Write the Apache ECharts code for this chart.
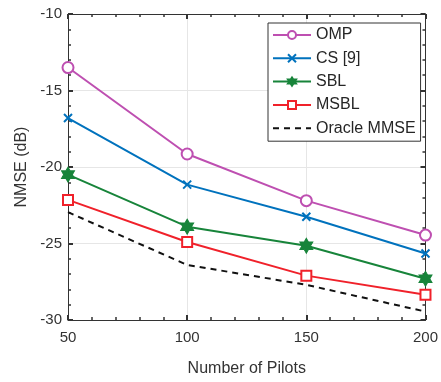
<!DOCTYPE html>
<html>
<head>
<meta charset="utf-8">
<script src="https://cdn.jsdelivr.net/npm/echarts@6/dist/echarts.min.js"></script>
<style>
  html, body { margin: 0; padding: 0; background: #fff; }
  #chart { width: 441px; height: 382px; }
</style>
</head>
<body>
<div id="chart"></div>
<script>
// pilots on the x axis
const pilots = [50, 100, 150, 200];

// NMSE in dB
const omp = [-13.5, -19.15, -22.2, -24.45];
const cs9 = [-16.8, -21.15, -23.25, -25.65];
const sbl = [-20.5, -23.9, -25.15, -27.3];
const msbl = [-22.15, -24.9, -27.1, -28.35];
const oracle = [-22.95, -26.4, -27.7, -29.45];

const FONT = '"Liberation Sans", Arial, Helvetica, sans-serif';
const AXIS = '#333333';
const GRIDC = '#e6e6e6';

// marker shapes
const crossPath = 'path://M0,0 L10,10 M10,0 L0,10';
const hexagram = 'path://M10,0 L12.89,5 L18.66,5 L15.77,10 L18.66,15 L12.89,15 L10,20 L7.11,15 L1.34,15 L4.23,10 L1.34,5 L7.11,5 Z';

const pairs = ys => pilots.map((x, i) => [x, ys[i]]);

// matlab-style box: ticks inside on all four sides
const axisStyle = (min, max, interval) => ({
    type: 'value',
    min: min,
    max: max,
    interval: interval,
    axisLine: { show: true, onZero: false, lineStyle: { color: AXIS, width: 1 } },
    axisTick: { show: true, inside: true, length: 5, lineStyle: { color: AXIS, width: 2 } },
    minorTick: { show: true, splitNumber: 5, length: 3, lineStyle: { color: AXIS, width: 1.5 } },
    splitLine: { show: false },
});

const chart = echarts.init(document.getElementById('chart'), null, { renderer: 'canvas' });
chart.setOption({
    animation: false,
    backgroundColor: '#fff',
    textStyle: { fontFamily: FONT },
    grid: { left: 68, right: 8, top: 14, bottom: 62 },
    legend: {
        orient: 'vertical',
        left: 268,
        top: 23,
        padding: [4, 5, 5, 4],
        borderColor: '#333',
        borderWidth: 1,
        backgroundColor: '#fff',
        itemWidth: 38,
        itemHeight: 10,
        itemGap: 7.3,
        textStyle: { fontFamily: FONT, fontSize: 16, color: '#262626', lineHeight: 16 },
        data: ['OMP', 'CS [9]', 'SBL', 'MSBL', 'Oracle MMSE'],
    },
    xAxis: [
        Object.assign(axisStyle(50, 200, 50), {
            position: 'bottom',
            name: 'Number of Pilots',
            nameLocation: 'middle',
            nameGap: 41,
            nameTextStyle: { fontFamily: FONT, fontSize: 16, color: '#333' },
            axisLabel: { fontFamily: FONT, fontSize: 15, color: '#333', margin: 10 },
            splitLine: { show: true, lineStyle: { color: GRIDC, width: 1 } },
        }),
        Object.assign(axisStyle(50, 200, 50), { position: 'top', axisLabel: { show: false } }),
    ],
    yAxis: [
        Object.assign(axisStyle(-30, -10, 5), {
            position: 'left',
            name: 'NMSE (dB)',
            nameLocation: 'middle',
            nameGap: 38,
            nameTextStyle: { fontFamily: FONT, fontSize: 16, color: '#333' },
            axisLabel: { fontFamily: FONT, fontSize: 15, color: '#333', margin: 6 },
            splitLine: { show: true, lineStyle: { color: GRIDC, width: 1 } },
        }),
        Object.assign(axisStyle(-30, -10, 5), { position: 'right', axisLabel: { show: false } }),
    ],
    series: [
        {
            name: 'OMP', type: 'line', data: pairs(omp),
            symbol: 'emptyCircle', symbolSize: 11,
            lineStyle: { color: '#be4fb1', width: 2 },
            itemStyle: { color: '#be4fb1', borderWidth: 2 },
            z: 5,
        },
        {
            name: 'CS [9]', type: 'line', data: pairs(cs9),
            symbol: crossPath, symbolSize: 8,
            lineStyle: { color: '#0072bd', width: 2 },
            itemStyle: { color: '#0072bd', borderColor: '#0072bd', borderWidth: 2 },
            z: 4,
        },
        {
            name: 'SBL', type: 'line', data: pairs(sbl),
            symbol: hexagram, symbolSize: [13, 15],
            lineStyle: { color: '#17843a', width: 2 },
            itemStyle: { color: '#17843a', borderColor: '#17843a', borderWidth: 1 },
            z: 3,
        },
        {
            name: 'MSBL', type: 'line', data: pairs(msbl),
            symbol: 'emptyRect', symbolSize: 10,
            lineStyle: { color: '#f0212a', width: 2 },
            itemStyle: { color: '#f0212a', borderWidth: 2 },
            z: 2,
        },
        {
            name: 'Oracle MMSE', type: 'line', data: pairs(oracle),
            symbol: 'circle', symbolSize: 0, showSymbol: false,
            lineStyle: { color: '#111', width: 2, type: [6, 5] },
            itemStyle: { color: 'rgba(0,0,0,0)', borderColor: 'rgba(0,0,0,0)' },
            z: 1,
        },
    ],
});
</script>
</body>
</html>
